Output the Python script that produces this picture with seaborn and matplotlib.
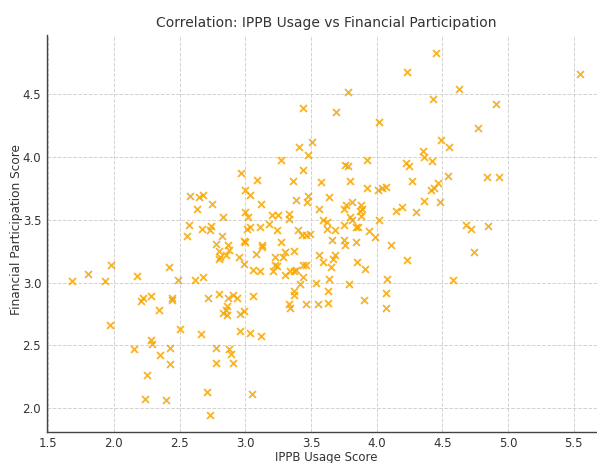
import matplotlib
matplotlib.use("Agg")
import matplotlib.pyplot as plt
import seaborn as sns
import pandas as pd

# ---- data ----
ippb_usage = [
    4.23, 3.78, 3.44, 3.69, 4.02, 3.51, 3.41, 3.48, 3.27, 3.76, 3.78, 3.93, 4.22, 4.25, 3.44, 2.97,
    4.45, 5.55, 4.63, 4.43, 4.91, 4.77, 4.49, 4.55, 4.35, 4.36, 4.42,
    2.58, 2.65, 2.68, 2.63, 2.75, 2.83, 2.57, 2.67, 2.74, 2.73, 2.56, 2.82, 2.78, 2.87, 2.88, 2.80, 2.81, 2.80, 2.85,
    1.68, 1.80, 1.93, 1.98, 2.18, 2.42, 2.49, 2.62, 2.68, 2.22, 2.21, 2.28, 2.44, 2.44, 2.72, 2.80, 2.87, 2.91,
    3.09, 3.36, 3.58, 3.80, 4.27, 3.00, 3.04, 3.93, 4.01, 4.04, 4.07, 3.48, 3.47, 3.39, 3.64, 3.12, 3.56, 3.77, 3.81,
    3.75, 3.88, 3.89, 3.87, 4.15, 4.19, 4.30,
    3.00, 3.02, 3.20, 3.25, 3.33, 3.33, 3.59, 3.62, 3.80, 3.81, 3.88, 4.02,
    3.01, 3.04, 3.11, 3.18, 3.24, 3.40, 3.43, 3.46, 3.49, 3.62, 3.68, 3.75, 3.84, 3.86, 3.94, 3.99,
    2.99, 3.00, 3.13, 3.13, 3.27, 3.66, 3.75, 3.76, 3.84, 4.11,
    2.95, 2.99, 3.08, 3.23, 3.30, 3.29, 3.37, 3.56, 3.59, 3.68, 3.67, 3.65, 3.85, 3.91, 4.23,
    3.23, 3.24, 3.21, 3.06, 3.11, 3.30, 3.34, 3.37, 3.39, 3.44, 3.46, 3.42, 3.44, 3.54, 3.64, 3.79, 4.08,
    2.94, 3.06, 3.37, 3.37, 3.63, 4.07,
    2.96, 2.99, 2.96, 3.04, 3.12, 2.91, 3.05, 3.33, 3.34, 3.46, 3.55, 3.63, 3.90, 4.07,
    2.34, 1.97, 2.28, 2.29, 2.15, 2.43, 2.35, 2.43, 2.25, 2.24, 2.40, 2.50, 2.66, 2.78, 2.88, 2.89, 2.78, 2.71, 2.73,
    2.83, 2.85, 2.86, 2.86,
    4.54, 4.84, 4.93, 4.41, 4.44, 4.47, 4.36, 4.48, 4.68, 4.72, 4.85, 4.74, 4.58,
]
financial_participation = [
    4.68, 4.52, 4.39, 4.36, 4.28, 4.12, 4.08, 4.02, 3.98, 3.94, 3.93, 3.98, 3.95, 3.93, 3.90, 3.87,
    4.83, 4.66, 4.54, 4.46, 4.42, 4.23, 4.14, 4.08, 4.05, 4.00, 3.97,
    3.69, 3.68, 3.70, 3.59, 3.63, 3.52, 3.46, 3.43, 3.45, 3.42, 3.37, 3.37, 3.31, 3.30, 3.26, 3.25, 3.20, 3.19, 3.22,
    3.01, 3.07, 3.01, 3.14, 3.05, 3.12, 3.02, 3.02, 3.04, 2.88, 2.85, 2.89, 2.88, 2.86, 2.88, 2.91, 2.88, 2.90,
    3.82, 3.81, 3.80, 3.81, 3.81, 3.74, 3.70, 3.75, 3.74, 3.75, 3.76, 3.69, 3.64, 3.66, 3.68, 3.63, 3.59, 3.62, 3.64,
    3.59, 3.62, 3.59, 3.57, 3.57, 3.60, 3.56,
    3.56, 3.52, 3.54, 3.54, 3.55, 3.51, 3.50, 3.48, 3.52, 3.50, 3.53, 3.50,
    3.43, 3.44, 3.44, 3.47, 3.42, 3.42, 3.38, 3.38, 3.39, 3.43, 3.42, 3.46, 3.44, 3.44, 3.41, 3.36,
    3.33, 3.32, 3.30, 3.28, 3.32, 3.34, 3.34, 3.30, 3.32, 3.30,
    3.20, 3.15, 3.23, 3.20, 3.24, 3.20, 3.25, 3.22, 3.16, 3.22, 3.19, 3.12, 3.16, 3.11, 3.18,
    3.14, 3.13, 3.09, 3.10, 3.09, 3.06, 3.09, 3.09, 3.10, 3.14, 3.14, 2.99, 3.04, 3.00, 3.03, 2.99, 3.03,
    2.88, 2.89, 2.93, 2.90, 2.93, 2.92,
    2.75, 2.77, 2.61, 2.60, 2.57, 2.36, 2.11, 2.83, 2.80, 2.83, 2.83, 2.84, 2.86, 2.80,
    2.78, 2.66, 2.54, 2.51, 2.47, 2.48, 2.42, 2.35, 2.26, 2.07, 2.06, 2.63, 2.59, 2.48, 2.47, 2.43, 2.36, 2.13, 1.94,
    2.76, 2.78, 2.74, 2.81,
    3.85, 3.84, 3.84, 3.74, 3.75, 3.79, 3.65, 3.64, 3.46, 3.43, 3.45, 3.24, 3.02,
]
x_ticks = [1.5, 2.0, 2.5, 3.0, 3.5, 4.0, 4.5, 5.0, 5.5]
y_ticks = [2.0, 2.5, 3.0, 3.5, 4.0, 4.5]

title = "Correlation: IPPB Usage vs Financial Participation"
x_label = "IPPB Usage Score"
y_label = "Financial Participation Score"

# ---- styling ----
sns.set_style("white")
plt.rcParams["font.family"] = ["Liberation Sans Narrow", "DejaVu Sans"]

df = pd.DataFrame({"usage": ippb_usage, "participation": financial_participation})

fig = plt.figure(figsize=(5.97, 4.63), dpi=100)
ax = fig.add_axes([0.0784, 0.0676, 0.9355, 0.857])

sns.scatterplot(data=df, x="usage", y="participation", marker="x", color="#f7a600",
                s=25, linewidth=1.3, alpha=0.85, ax=ax)

ax.set_xlim(1.49, 5.74)
ax.set_ylim(1.81, 4.975)
ax.set_xticks(x_ticks)
ax.set_yticks(y_ticks)
ax.set_xticklabels([f"{t:.1f}" for t in x_ticks])
ax.set_yticklabels([f"{t:.1f}" for t in y_ticks])

ax.grid(True, linestyle="--", linewidth=0.7, color="#d2d2d2")
ax.set_axisbelow(True)
for side in ["top", "right"]:
    ax.spines[side].set_visible(False)
for side in ["left", "bottom"]:
    ax.spines[side].set_color("#444444")
    ax.spines[side].set_linewidth(1.0)

ax.tick_params(length=2.5, width=0.8, color="#444444", labelsize=8.5, labelcolor="#333333", pad=1.5)

ax.set_title(title, fontsize=10, color="#333333", pad=6)
ax.set_xlabel(x_label, fontsize=8.5, color="#333333", labelpad=0.5)
ax.set_ylabel(y_label, fontsize=8.7, family="DejaVu Sans", color="#333333")
ax.yaxis.set_label_coords(-0.043, 0.51)

fig.savefig("out.png", dpi=100)
